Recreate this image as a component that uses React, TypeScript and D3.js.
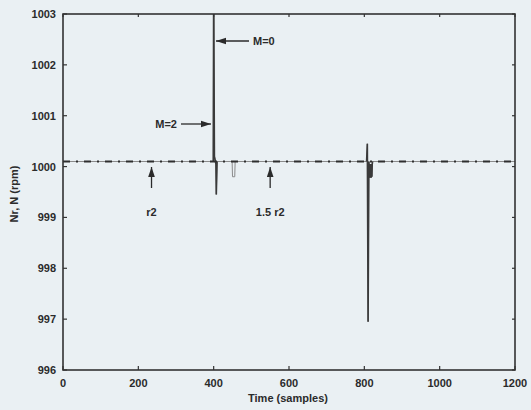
import React from "react";
import * as d3 from "d3";

const W = 531;
const H = 410;

// x: time (samples), y: speed (rpm)
const xTicks = [0, 200, 400, 600, 800, 1000, 1200];
const yTicks = [996, 997, 998, 999, 1000, 1001, 1002, 1003];

// reference speed (dash-dot)
const refTime = [0, 1200];
const refSpeed = [1000.1, 1000.1];

// measured speed
const speedTime = [0, 399, 400, 402, 406, 407, 409, 449, 450, 456, 457, 806, 808, 810, 812, 814, 815, 816, 817, 818, 819, 820, 821, 822, 1200];
const speedRpm = [1000.1, 1000.1, 1003.6, 1000.2, 1000.05, 999.45, 1000.1, 1000.1, 999.8, 999.8, 1000.1, 1000.1, 1000.45, 996.95, 1000.1, 999.78, 1000.05, 999.78, 1000.05, 999.78, 1000.05, 999.8, 1000.05, 1000.1, 1000.1];

const upArrows = [
  { label: "r2", t: 235 },
  { label: "1.5 r2", t: 550 },
];

export default function App() {
  const x = d3.scaleLinear().domain([0, 1200]).range([63, 515]);
  const y = d3.scaleLinear().domain([996, 1003]).range([370, 14]);
  const line = d3
    .line<[number, number]>()
    .x((d) => x(d[0]))
    .y((d) => y(d[1]));
  const speedPts = speedTime.map((t, i) => [t, speedRpm[i]] as [number, number]);
  const refPts = refTime.map((t, i) => [t, refSpeed[i]] as [number, number]);
  const font = "'Liberation Sans', Arial, sans-serif";
  const txt = "#2b2b2b";
  const ax = "#333";
  const [x0, x1] = x.range();
  const [y0, y1] = y.range();
  return (
    <svg
      width={W}
      height={H}
      style={{ position: "absolute", left: 0, top: 0, background: "#eaf0f3" }}
      fontFamily={font}
    >
      <defs>
        <clipPath id="plot">
          <rect x={x0} y={y1} width={x1 - x0} height={y0 - y1} />
        </clipPath>
        <marker id="ah" viewBox="0 0 12 8" refX="12" refY="4" markerWidth="8" markerHeight="5.5" orient="auto-start-reverse">
          <path d="M0,0 L12,4 L0,8 z" fill={txt} />
        </marker>
      </defs>
      <g clipPath="url(#plot)">
        <path d={line(speedPts) || ""} fill="none" stroke="#8a8a8a" strokeWidth={1} />
        <path d={line(speedPts.slice(1, 7)) || ""} fill="none" stroke="#3a3a3a" strokeWidth={1.6} />
        <path d={line(speedPts.slice(11, 24)) || ""} fill="none" stroke="#3a3a3a" strokeWidth={1.6} />
        <path d={line(refPts) || ""} fill="none" stroke="#2e2e2e" strokeWidth={2} strokeDasharray="7 6 2 6" />
      </g>
      <rect x={x0} y={y1} width={x1 - x0} height={y0 - y1} fill="none" stroke={ax} strokeWidth={1.6} />
      {yTicks.map((v) => (
        <g key={"y" + v}>
          <line x1={x0} x2={x0 + 4} y1={y(v)} y2={y(v)} stroke={ax} strokeWidth={1.2} />
          <line x1={x1} x2={x1 - 3} y1={y(v)} y2={y(v)} stroke={ax} strokeWidth={1.2} />
          <text x={x0 - 7} y={y(v) + 4} textAnchor="end" fontSize={11} fontWeight="bold" fill={txt}>
            {v}
          </text>
        </g>
      ))}
      {xTicks.map((v) => (
        <g key={"x" + v}>
          <line x1={x(v)} x2={x(v)} y1={y0} y2={y0 - 4} stroke={ax} strokeWidth={1.2} />
          <line x1={x(v)} x2={x(v)} y1={y1} y2={y1 + 3} stroke={ax} strokeWidth={1.2} />
          <text x={x(v)} y={387} textAnchor="middle" fontSize={11} fontWeight="bold" fill={txt}>
            {v}
          </text>
        </g>
      ))}
      <text x={288} y={402} textAnchor="middle" fontSize={11} fontWeight="bold" fill={txt}>
        Time (samples)
      </text>
      <text
        transform={`translate(18,194) rotate(-90)`}
        textAnchor="middle"
        fontSize={11}
        fontWeight="bold"
        fill={txt}
      >
        Nr, N (rpm)
      </text>
      {/* M=0 */}
      <line x1={249} x2={216} y1={41} y2={41} stroke={txt} strokeWidth={1.3} markerEnd="url(#ah)" />
      <text x={253} y={45} fontSize={11} fontWeight="bold" fill={txt}>
        M=0
      </text>
      {/* M=2 */}
      <line x1={181} x2={211} y1={124} y2={124} stroke={txt} strokeWidth={1.3} markerEnd="url(#ah)" />
      <text x={177} y={128} textAnchor="end" fontSize={11} fontWeight="bold" fill={txt}>
        M=2
      </text>
      {upArrows.map((a) => (
        <g key={a.label}>
          <line x1={x(a.t)} x2={x(a.t)} y1={188} y2={167} stroke={txt} strokeWidth={1.3} markerEnd="url(#ah)" />
          <text x={x(a.t)} y={216} textAnchor="middle" fontSize={11} fontWeight="bold" fill={txt}>
            {a.label}
          </text>
        </g>
      ))}
    </svg>
  );
}
